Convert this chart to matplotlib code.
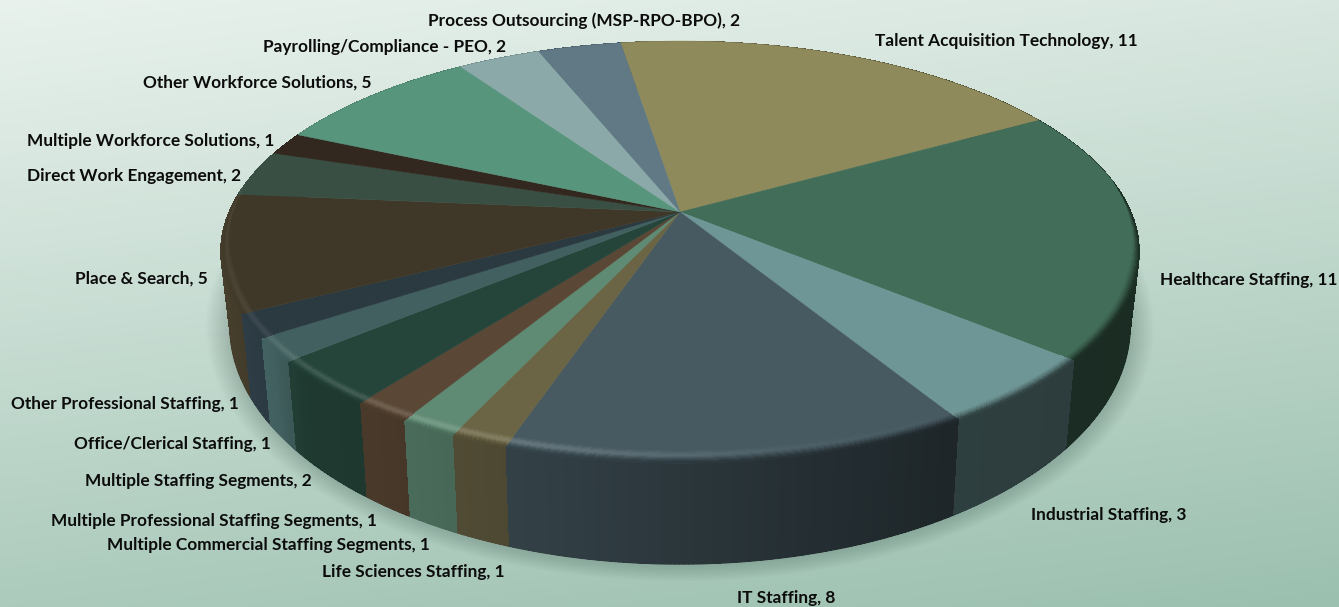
import numpy as np
import matplotlib
matplotlib.use("Agg")
import matplotlib.pyplot as plt
from matplotlib.collections import PolyCollection
from matplotlib.colors import to_rgb

categories = ["Talent Acquisition Technology", "Healthcare Staffing", "Industrial Staffing",
              "IT Staffing", "Life Sciences Staffing", "Multiple Commercial Staffing Segments",
              "Multiple Professional Staffing Segments", "Multiple Staffing Segments",
              "Office/Clerical Staffing", "Other Professional Staffing", "Place & Search",
              "Direct Work Engagement", "Multiple Workforce Solutions", "Other Workforce Solutions",
              "Payrolling/Compliance - PEO", "Process Outsourcing (MSP-RPO-BPO)"]
values = [11, 11, 3, 8, 1, 1, 1, 2, 1, 1, 5, 2, 1, 5, 2, 2]
colors = ["#8f8a5c", "#426d58", "#6f9696", "#475a62", "#6b6445", "#5f8a73", "#5a4735", "#25443a",
          "#41605f", "#2b3941", "#3f3828", "#3a4f43", "#33281f", "#58957d", "#8aa9a8", "#607985"]
label_left = [875, 1160, 1031, 737, 322, 107, 51, 85, 74, 11, 75, 27, 27, 143, 263, 428]
label_y = [41, 280, 515, 598, 572, 545, 521, 481, 444, 404, 279, 176, 141, 83, 47, 21]

W, H = 1339, 607
CX, CY = 680.0, 212.0
A, Q, P = 451.0, 203.4, 0.1896
START = -9.0


def warp(deg):
    return deg - 1.3 * np.exp(-((deg - 222.0) / 35.0) ** 2)


def top_xy(deg):
    t = np.radians(warp(np.asarray(deg, float)))
    u, v = np.sin(t), np.cos(t)
    den = 1 + P * v
    return CX + A * u / den, CY - Q * v / den


def bottom_xy(deg):
    x, y = top_xy(deg)
    return CX + 0.98 * (x - CX), 425 + 1.13 * (y - 340)


def shade_factor(x):
    return np.interp(x, [220, 270, 300, 400, 510, 950, 1140], [1.12, 1.0, 0.85, 0.78, 0.72, 0.42, 0.40])


def bevel_frac(d):
    x, y = top_xy(d)
    dist = np.hypot(x - CX, y - CY)
    return 0.052 * min(1.0, 270.0 / dist) * np.clip((0.15 - np.cos(np.radians(d))) / 0.45, 0, 1)


fig = plt.figure(figsize=(W / 100, H / 100), dpi=100)
ax = fig.add_axes([0, 0, 1, 1])
ax.set_xlim(0, W)
ax.set_ylim(H, 0)
ax.axis("off")

# background gradient
yy, xx = np.mgrid[0:1:160j, 0:1:340j]
g = np.clip(0.78 * yy + 0.22 * xx, 0, 1)[..., None]
c0 = np.array(to_rgb("#e9f2ed"))
c1 = np.array(to_rgb("#9bc0af"))
ax.imshow(c0 * (1 - g) + c1 * g, extent=[0, W, H, 0], aspect="auto", zorder=0, interpolation="bilinear")

# soft shadow under the pie
full = np.linspace(0, 360, 361)
bx, by = bottom_xy(full)
mx, my = bx.mean(), by.mean()
for k in range(1, 13):
    sx = 1 + k * 2.0 / 455
    sy = 1 + k * 1.2 / 220
    ax.fill(mx + sx * (bx - mx), my + sy * (by - my), color="#2c4a40", alpha=0.018, lw=0, zorder=1)

edges = START + np.cumsum([0] + values) * 360.0 / sum(values)

# side wall
polys, fcs = [], []
for i, col in enumerate(colors):
    c = np.array(to_rgb(col))
    a = np.arange(edges[i], edges[i + 1], 0.5)
    a = np.append(a, edges[i + 1])
    for a0, a1 in zip(a[:-1], a[1:]):
        tx0, ty0 = top_xy(a0)
        tx1, ty1 = top_xy(a1)
        bx0, by0 = bottom_xy(a0)
        bx1, by1 = bottom_xy(a1)
        polys.append([(tx0, ty0), (tx1, ty1), (bx1, by1), (bx0, by0)])
        fcs.append(np.clip(c * shade_factor((tx0 + tx1) / 2), 0, 1))
ax.add_collection(PolyCollection(polys, facecolors=fcs, edgecolors="none", antialiaseds=False, zorder=2))
# smooth lower outline of the wall
for p, fc in zip(polys, fcs):
    ax.plot([p[3][0], p[2][0]], [p[3][1], p[2][1]], color=fc, lw=1.0, solid_capstyle="round", zorder=2)

# top face
for i, col in enumerate(colors):
    a = np.linspace(edges[i], edges[i + 1], 80)
    x, y = top_xy(a)
    ax.fill(np.r_[CX, x], np.r_[CY, y], facecolor=col, edgecolor=col, lw=0.3, zorder=3)

# bevel along the front rim
polys, fcs = [], []
levels = np.linspace(0, 1, 13)


def band(a, t):
    x, y = top_xy(a)
    s = bevel_frac(a) * (1 - t)
    return x + (CX - x) * s, y + (CY - y) * s


for i, col in enumerate(colors):
    c = np.array(to_rgb(col))
    a = np.arange(edges[i], edges[i + 1], 0.5)
    a = np.append(a, edges[i + 1])
    for a0, a1 in zip(a[:-1], a[1:]):
        am = (a0 + a1) / 2
        if bevel_frac(am) <= 0:
            continue
        xm = top_xy(am)[0]
        side = c * shade_factor(xm)
        hl = np.interp(xm, [220, 300, 520, 800, 1000], [0.05, 0.12, 0.16, 0.03, 0.0])
        for t0, t1 in zip(levels[:-1], levels[1:]):
            tm = (t0 + t1) / 2
            col_t = c + hl * (1 - c) * np.sin(np.pi * min(tm / 0.85, 1.0)) ** 2
            start = np.interp(xm, [300, 600, 1000], [0.72, 0.5, 0.3])
            mix = np.clip((tm - start) / (1 - start), 0, 1) ** 1.3
            col_t = col_t * (1 - mix) + side * mix
            polys.append([band(a0, t0), band(a1, t0), band(a1, t1), band(a0, t1)])
            fcs.append(np.clip(col_t, 0, 1))
ax.add_collection(PolyCollection(polys, facecolors=fcs, edgecolors="none", antialiaseds=False, zorder=4))

# labels
for name, val, lx, ly in zip(categories, values, label_left, label_y):
    ax.text(lx, ly, f"{name}, {val}", ha="left", va="center", fontsize=12.4,
            family="Lato", weight="bold", color="#0c0c0c", zorder=5)

fig.savefig("out.png", dpi=100)
